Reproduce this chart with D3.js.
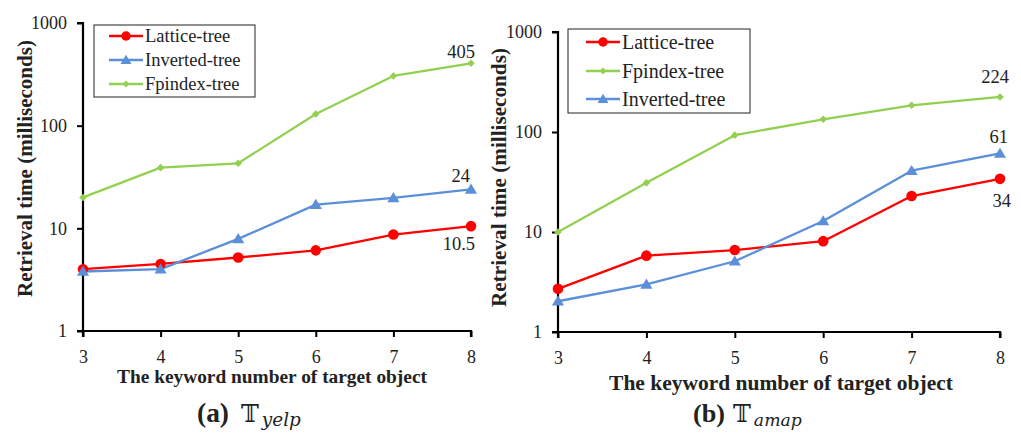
<!DOCTYPE html>
<html><head><meta charset="utf-8">
<script src="https://cdn.jsdelivr.net/npm/d3@7"></script>
<style>
html,body{margin:0;padding:0;background:#fff;}
svg{display:block;}
text{font-family:"Liberation Serif","Times New Roman",serif;fill:#222;}
</style></head><body>
<svg id="chart" width="1021" height="435"></svg>
<script>
const xValues = [3, 4, 5, 6, 7, 8];
const yTicks = [1, 10, 100, 1000];
const yelpLattice = [4.0, 4.5, 5.2, 6.1, 8.7, 10.5];
const yelpInverted = [3.8, 4.0, 7.9, 17, 19.8, 24];
const yelpFpindex = [20, 39, 43, 130, 305, 405];
const amapLattice = [2.7, 5.8, 6.6, 8.1, 22.9, 34];
const amapFpindex = [10, 31, 93, 134, 185, 224];
const amapInverted = [2.03, 3.0, 5.1, 12.9, 41, 61];
const yTitle = "Retrieval time (milliseconds)";
const xTitle = "The keyword number of target object";

const COLORS = {lattice:"#ff0000", inverted:"#5b8fd8", fpindex:"#92d050"};
const svg = d3.select("#chart");

const panels = [
  {x0:83, x1:471, y0:331, y1:23,
   yTitle:{x:25, y0:40, y1:297}, xTitle:{x0:117, x1:427, y:383},
   legend:{x:94,y:25,w:161,h:72,rows:[36,60,84],lx0:109,lx1:143,tx:145,fs:18.5},
   series:[
     {name:"Lattice-tree", key:"lattice", values:yelpLattice, marker:"circle"},
     {name:"Inverted-tree", key:"inverted", values:yelpInverted, marker:"triangle"},
     {name:"Fpindex-tree", key:"fpindex", values:yelpFpindex, marker:"diamond"}],
   labels:[{text:"405", series:2, dx:4, dy:-5},{text:"24", series:1, dx:-1, dy:-7},{text:"10.5", series:0, dx:4, dy:24}],
   caption:{x:197, label:"a", sub:"yelp", tx:241, sw:39}},
  {x0:558, x1:1000, y0:332, y1:32,
   yTitle:{x:499, y0:48, y1:307}, xTitle:{x0:609, x1:953, y:390},
   legend:{x:568,y:29,w:182,h:84,rows:[42,71,99],lx0:586,lx1:620,tx:622,fs:20},
   series:[
     {name:"Lattice-tree", key:"lattice", values:amapLattice, marker:"circle"},
     {name:"Fpindex-tree", key:"fpindex", values:amapFpindex, marker:"diamond"},
     {name:"Inverted-tree", key:"inverted", values:amapInverted, marker:"triangle"}],
   labels:[{text:"224", series:1, dx:9, dy:-14},{text:"61", series:2, dx:8, dy:-10},{text:"34", series:0, dx:11, dy:28}],
   caption:{x:693, label:"b", sub:"amap", tx:733, sw:48}}
];

function fitFont(sel, base, target){
  sel.attr("font-size", base);
  const w = sel.node().getComputedTextLength();
  const fs = base * target / w;
  sel.attr("font-size", fs);
  return fs;
}

function drawMarker(g, type, cx, cy, color, scale){
  scale = scale || 1;
  if(type==="circle"){
    g.append("circle").attr("cx",cx).attr("cy",cy).attr("r",5.3*scale).attr("fill",color);
  } else if(type==="triangle"){
    const s=5.8*scale;
    g.append("path").attr("d",`M${cx},${cy-s}L${cx+s*1.05},${cy+s*0.75}L${cx-s*1.05},${cy+s*0.75}Z`).attr("fill",color);
  } else {
    const s=3.8*scale;
    g.append("path").attr("d",`M${cx},${cy-s}L${cx+s},${cy}L${cx},${cy+s}L${cx-s},${cy}Z`).attr("fill",color);
  }
}

panels.forEach(p=>{
  const g = svg.append("g");
  const x = d3.scaleLinear().domain([3,8]).range([p.x0,p.x1]);
  const y = d3.scaleLog().domain([1,1000]).range([p.y0,p.y1]);

  const yAxis = g.append("g").attr("transform",`translate(${p.x0},0)`)
    .call(d3.axisLeft(y).tickValues(yTicks).tickFormat(d3.format("d")).tickSize(6).tickPadding(10));
  const xAxis = g.append("g").attr("transform",`translate(0,${p.y0})`)
    .call(d3.axisBottom(x).tickValues(xValues).tickFormat(d3.format("d")).tickSize(6).tickPadding(13));
  [yAxis,xAxis].forEach(a=>{
    a.select(".domain").attr("stroke","#000").attr("stroke-width",2.2);
    a.selectAll(".tick line").attr("stroke","#000").attr("stroke-width",2);
    a.selectAll(".tick text").attr("font-size",18).attr("fill","#222");
  });
  yAxis.select(".domain").attr("d",`M-6,${p.y1}H0V${p.y0}H-6`);
  xAxis.select(".domain").attr("d",`M${p.x0},6V0H${p.x1}V6`);

  // lines
  const line = d3.line().x((d,i)=>x(xValues[i])).y(d=>y(d));
  p.series.forEach(s=>{
    g.append("path").datum(s.values).attr("d",line).attr("fill","none")
      .attr("stroke",COLORS[s.key]).attr("stroke-width",2.3).attr("stroke-linejoin","round");
  });
  p.series.forEach(s=>{
    s.values.forEach((v,i)=>drawMarker(g, s.marker, x(xValues[i]), y(v), COLORS[s.key], 1));
  });

  // data labels
  p.labels.forEach(l=>{
    const s = p.series[l.series];
    const v = s.values[s.values.length-1];
    g.append("text").attr("x", x(8)+l.dx).attr("y", y(v)+l.dy)
      .attr("text-anchor","end").attr("font-size",18.5).text(l.text);
  });

  // legend
  const L = p.legend;
  g.append("rect").attr("x",L.x).attr("y",L.y).attr("width",L.w).attr("height",L.h)
    .attr("fill","#fff").attr("stroke","#222").attr("stroke-width",1);
  p.series.forEach((s,i)=>{
    const yy = L.rows[i];
    g.append("line").attr("x1",L.lx0).attr("x2",L.lx1).attr("y1",yy).attr("y2",yy)
      .attr("stroke",COLORS[s.key]).attr("stroke-width",2.3);
    drawMarker(g, s.marker, (L.lx0+L.lx1)/2, yy, COLORS[s.key], 0.9);
    g.append("text").attr("x",L.tx).attr("y",yy).attr("dy","0.35em").attr("font-size",L.fs).text(s.name);
  });

  // axis titles
  const yt = g.append("text").attr("transform",`translate(${p.yTitle.x},${(p.yTitle.y0+p.yTitle.y1)/2}) rotate(-90)`)
    .attr("text-anchor","middle").attr("dy","0.35em").attr("font-weight","bold").attr("fill","#111").text(yTitle);
  fitFont(yt, 18, p.yTitle.y1 - p.yTitle.y0);
  const xt = g.append("text").attr("x",(p.xTitle.x0+p.xTitle.x1)/2).attr("y",p.xTitle.y).attr("text-anchor","middle")
    .attr("font-weight","bold").attr("fill","#111").text(xTitle);
  fitFont(xt, 18, p.xTitle.x1 - p.xTitle.x0);

  // caption
  const C = p.caption;
  const ca = g.append("text").attr("x",C.x).attr("y",422).attr("font-weight","bold").attr("fill","#111").text("(" + C.label + ")");
  fitFont(ca, 22, 32);
  const ct = g.append("text").attr("x",C.tx).attr("y",422).attr("font-size",24).attr("fill","#111").text("\u{1D54B}");
  ct.style("font-family","DejaVu Serif, DejaVu Sans, serif");
  const tEnd = C.tx + ct.node().getComputedTextLength();
  const cs = g.append("text").attr("x",tEnd+3).attr("y",426).attr("font-style","italic").attr("fill","#111").text(C.sub);
  cs.style("font-family","DejaVu Serif, serif");
  fitFont(cs, 17, C.sw);
});
</script></body></html>
